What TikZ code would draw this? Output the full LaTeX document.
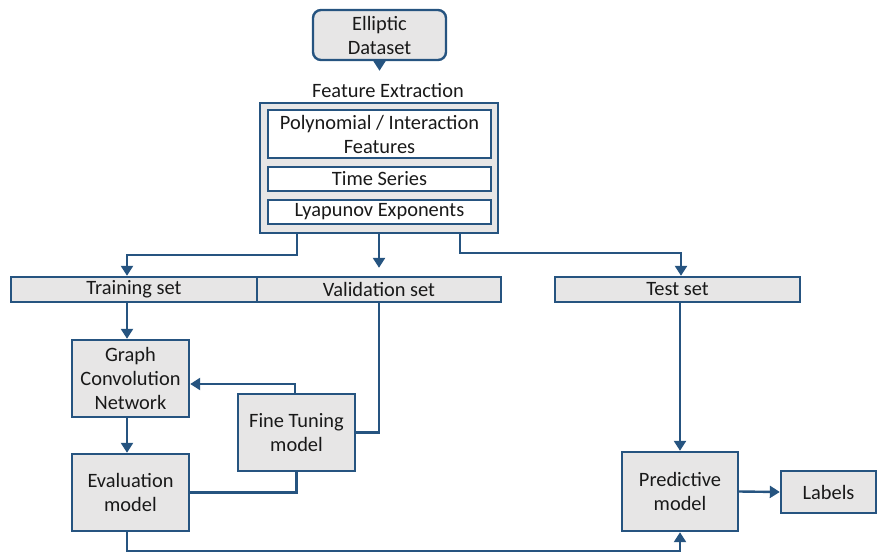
\documentclass[tikz,border=0pt]{standalone}
\usepackage{fontspec}
\setmainfont{Carlito}
\usepackage{xcolor}
\usetikzlibrary{arrows.meta, positioning}

\definecolor{edge}{RGB}{38,84,128}
\definecolor{boxgray}{RGB}{231,230,230}

\tikzset{
  box/.style={draw=edge, fill=boxgray, line width=1.2pt, inner sep=0pt,
    align=center, text=black!90, font=\fontsize{10.2}{12}\selectfont},
  sub/.style={box, fill=white},
  flow/.style={draw=edge, line width=1.2pt, -{Triangle[width=6pt,length=5pt]}},
  link/.style={draw=edge, line width=1.2pt}
}

\begin{document}
\begin{tikzpicture}[x=0.5pt, y=-0.5pt]
        \useasboundingbox (0,0) rectangle (878,552);

        \node[box, rounded corners=4pt, minimum width=66.5pt, minimum height=25pt] (data) at (379.5,35) {Elliptic\\Dataset};
        \node[font=\fontsize{10.2}{12}\selectfont, text=black!90] (fetitle) at (388,91) {Feature Extraction};
        \node[box, minimum width=119pt, minimum height=65pt] (fe) at (379,168) {};
        \node[sub, minimum width=111.5pt, minimum height=24pt] (poly) at (379.5,134) {Polynomial / Interaction\\Features};
        \node[sub, minimum width=111.5pt, minimum height=12pt] (ts) at (379.5,179) {Time Series};
        \node[sub, minimum width=111.5pt, minimum height=12pt] (lyap) at (379.5,212) {Lyapunov Exponents};

        \node[box, minimum width=123pt, minimum height=12.5pt] (train) at (134,289.5) {Training set};
        \node[box, minimum width=122pt, minimum height=12.5pt] (val) at (379,289.5) {Validation set};
        \node[box, minimum width=122.5pt, minimum height=12.5pt] (test) at (677.5,289.5) {Test set};

        \node[box, minimum width=58.5pt, minimum height=38.5pt] (gcn) at (130.5,378.5) {Graph\\Convolution\\Network};
        \node[box, minimum width=58.5pt, minimum height=38.5pt] (eval) at (130.5,492.5) {Evaluation\\model};
        \node[box, minimum width=58.5pt, minimum height=38.5pt] (fine) at (296.5,432.5) {Fine Tuning\\model};
        \node[box, minimum width=58pt, minimum height=39.5pt] (pred) at (680,491.5) {Predictive\\model};
        \node[box, minimum width=47.5pt, minimum height=21pt] (labels) at (828.5,492) {Labels};

        % dataset into the features
        \draw[flow] (data.south) -- ([yshift=3pt]data.south |- fetitle.north);

        % splits
        \draw[flow] ([xshift=-41pt]fe.south) -- ++(0,21) -| ([xshift=-3.5pt]train.north);
        \draw[flow] (fe.south) -- ([yshift=4pt]val.north);
        \draw[flow] ([xshift=40.5pt]fe.south) -- ++(0,19) -| ([xshift=1.75pt]test.north);

        % training loop
        \draw[flow] ([xshift=-3.5pt]train.south) -- ([xshift=-1.75pt]gcn.north);
        \draw[flow] ([xshift=-1.75pt]gcn.south) -- ([xshift=-1.75pt]eval.north);
        \draw[flow] ([xshift=-0.75pt]fine.north) |- ([yshift=-2.75pt]gcn.east);
        \draw[link] (val.south) |- (fine.east);
        \draw[link] (eval.east) -| (fine.south);

        % prediction
        \draw[flow] ([xshift=-1.75pt]eval.south) -- ++(0,19) -| (pred.south);
        \draw[flow] (test.south -| pred.north) -- (pred.north);
        \draw[flow] (pred.east) -- (labels.west);

    \end{tikzpicture}
\end{document}
